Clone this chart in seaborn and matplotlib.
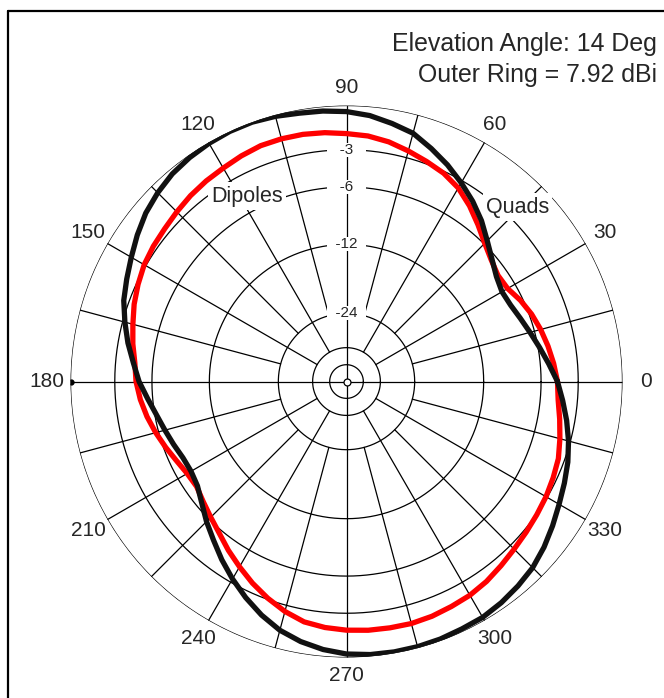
import numpy as np
import pandas as pd
import matplotlib
matplotlib.use("Agg")
import matplotlib.pyplot as plt
from matplotlib.lines import Line2D
import seaborn as sns

sns.set_style("white")
plt.rcParams['font.family'] = ['Liberation Sans', 'DejaVu Sans']

# azimuth angle (deg) and gain relative to the outer ring (dB)
azimuth = list(range(0, 360, 5))
quads_db = [-4.61, -5.27, -5.87, -6.41, -6.87, -7.24, -7.38, -7.05, -6.41, -5.61,
            -4.69, -3.89, -3.17, -2.47, -1.84, -1.22, -0.89, -0.57, -0.38, -0.28,
            -0.22, -0.09, 0.00, 0.00, -0.06, -0.16, -0.31, -0.57, -0.89, -1.33,
            -1.80, -2.22, -2.61, -3.17, -3.74, -4.37, -4.90, -5.57, -6.15, -6.59,
            -6.96, -7.29, -7.38, -7.15, -6.50, -5.70, -4.94, -4.09, -3.28, -2.51,
            -1.80, -1.19, -0.76, -0.44, -0.22, -0.12, -0.09, -0.09, -0.12, -0.19,
            -0.23, -0.38, -0.58, -0.81, -1.17, -1.59, -2.01, -2.37, -2.72, -3.14,
            -3.62, -4.13]
dipoles_db = [-4.61, -4.86, -5.14, -5.44, -5.79, -6.23, -6.77, -6.87, -6.50, -5.92,
              -5.14, -4.33, -3.62, -3.14, -2.82, -2.49, -2.16, -1.94, -1.84, -1.71,
              -1.63, -1.61, -1.63, -1.77, -1.94, -2.06, -2.21, -2.40, -2.58, -2.70,
              -2.86, -3.13, -3.43, -3.80, -4.13, -4.49, -4.65, -4.94, -5.31, -5.74,
              -6.19, -6.63, -6.96, -7.05, -6.68, -6.23, -5.70, -5.02, -4.37, -3.70,
              -3.09, -2.54, -2.11, -1.91, -1.79, -1.72, -1.69, -1.66, -1.71, -1.82,
              -1.92, -2.11, -2.37, -2.61, -2.80, -2.96, -3.10, -3.28, -3.47, -3.82,
              -4.17, -4.49]

ring_db = [0, -3, -6, -12, -24, -36, -48]
ring_labels = [-3, -6, -12, -24]
angle_ticks = list(range(0, 360, 30))


def arrl(db):
    # ARRL log scale: radius drops by 0.89 every 2 dB
    return 0.89 ** (-np.asarray(db, dtype=float) / 2.0)


rows = []
for name, vals in [("Dipoles", dipoles_db), ("Quads", quads_db)]:
    for az, v in zip(azimuth + [360], vals + [vals[0]]):
        rows.append({"ant": name, "theta": np.deg2rad(az), "r": float(arrl(v))})
df = pd.DataFrame(rows)

fig = plt.figure(figsize=(6.64, 6.98), dpi=100)
ax = fig.add_axes([0.1062, 0.0580, 0.8313, 0.7908], projection="polar")
ax.set_ylim(0, 1)
ax.axis("off")

# grid rings
t = np.linspace(0, 2 * np.pi, 721)
for db in ring_db:
    ax.plot(t, np.full_like(t, arrl(db)), color="black", lw=0.9, zorder=2)

# spokes every 15 deg
for a in range(0, 360, 15):
    if a % 90 == 0:
        r0 = 0.0
    elif a % 30 == 0:
        r0 = arrl(-36)
    else:
        r0 = arrl(-24)
    ax.plot([np.deg2rad(a)] * 2, [r0, 1], color="black", lw=0.9, zorder=2)

ax.plot(0, 0, "o", ms=5, mfc="white", mec="black", mew=0.9, zorder=3)
ax.plot(np.pi, 1, "o", ms=3.5, color="black", zorder=3)

sns.lineplot(data=df, x="theta", y="r", hue="ant", hue_order=["Dipoles", "Quads"],
             palette={"Dipoles": "#ff0000", "Quads": "#111111"}, sort=False,
             estimator=None, lw=3.8, legend=False, ax=ax, zorder=5)
ax.set_xlabel("")
ax.set_ylabel("")
ax.set_ylim(0, 1)

# ring labels, padded so every white box is about the same width
for db in ring_labels:
    s = str(db)
    pad = " " * (3 if len(s) == 2 else 2)
    ax.text(np.pi / 2, arrl(db), pad + s + pad, ha="center", va="center", fontsize=11,
            bbox=dict(boxstyle="square,pad=0", fc="white", ec="none"), zorder=4)

# angle labels
for a in angle_ticks:
    th = np.deg2rad(a)
    ax.text(th, 1.066 + 0.018 * abs(np.cos(th)), str(a), ha="center", va="center", fontsize=15)

ax.text(np.deg2rad(118.3), 0.763, "Dipoles", ha="center", va="center", fontsize=15.5,
        bbox=dict(boxstyle="square,pad=0.15", fc="white", ec="none"), zorder=4)
ax.text(np.deg2rad(45.6), 0.885, "Quads", ha="center", va="center", fontsize=15.5,
        bbox=dict(boxstyle="square,pad=0.15", fc="white", ec="none"), zorder=4)

fig.text(657 / 664, 1 - 44 / 698, "Elevation Angle: 14 Deg", ha="right", va="center", fontsize=17.9)
fig.text(657 / 664, 1 - 75 / 698, "Outer Ring = 7.92 dBi", ha="right", va="center", fontsize=17.9)

# frame (only top and left edges fall inside the picture)
fig.add_artist(Line2D([8 / 664, 8 / 664], [0, 1 - 11 / 698], color="black", lw=1.6))
fig.add_artist(Line2D([8 / 664, 1], [1 - 11 / 698, 1 - 11 / 698], color="black", lw=1.6))

fig.savefig("out.png", dpi=100)
